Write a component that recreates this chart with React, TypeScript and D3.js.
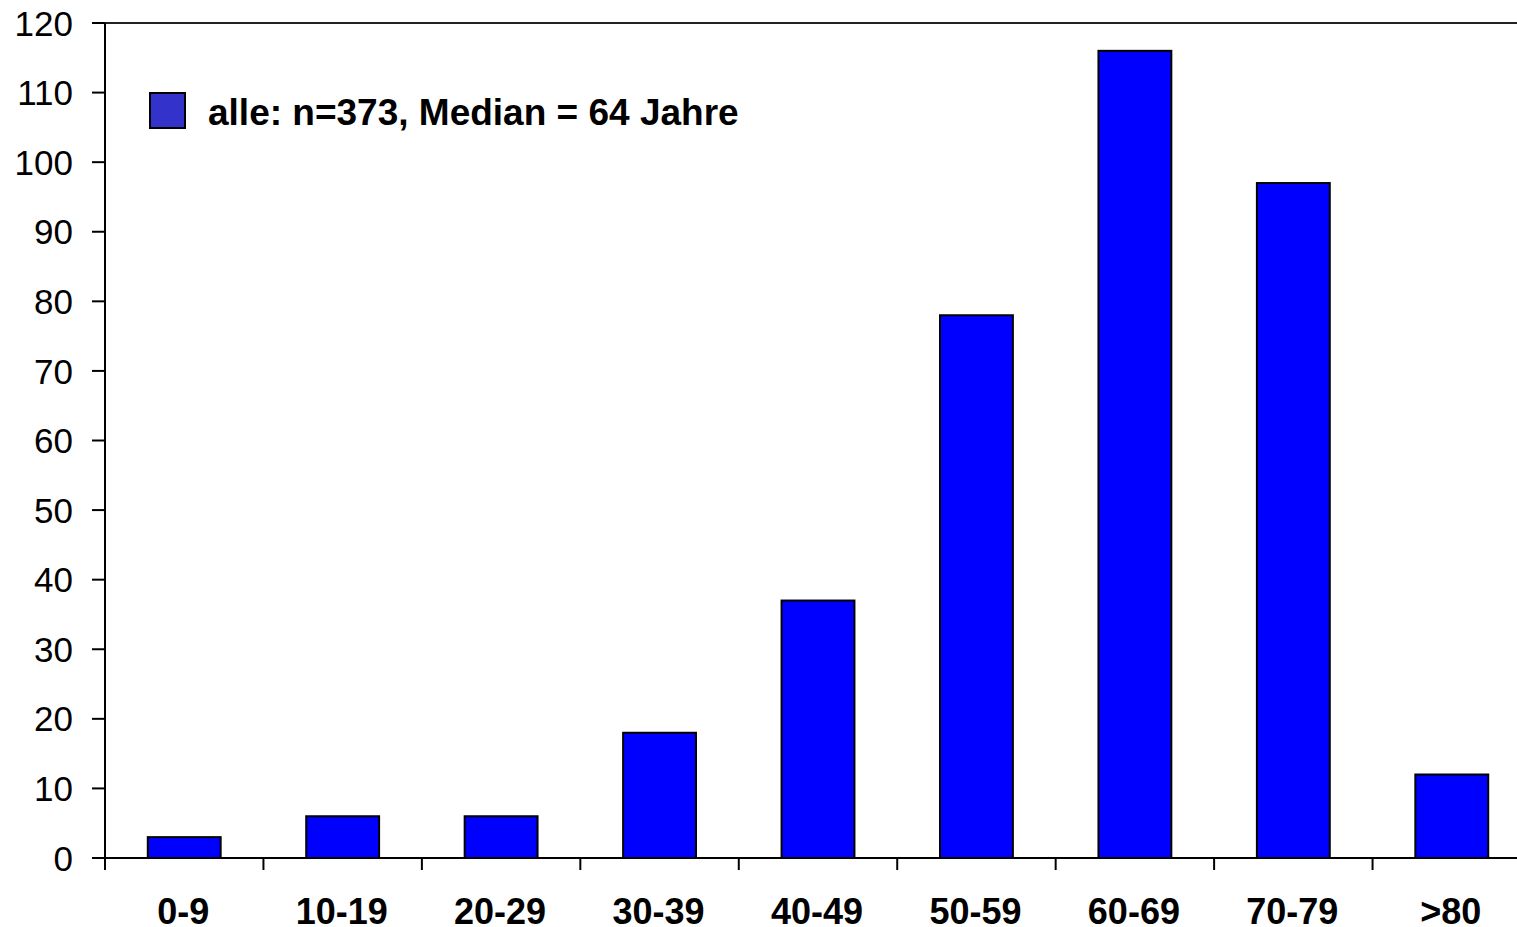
import React, { useEffect, useRef } from "react";
import * as d3 from "d3";

const categories = ["0-9", "10-19", "20-29", "30-39", "40-49", "50-59", "60-69", "70-79", ">80"];
const counts = [3, 6, 6, 18, 37, 78, 116, 97, 12];
const yTicks = [0, 10, 20, 30, 40, 50, 60, 70, 80, 90, 100, 110, 120];
const legendLabel = "alle: n=373, Median = 64 Jahre";

const W = 1517;
const H = 927;
const left = 105;
const right = 1531;
const top = 23;
const bottom = 858;
const FONT = "Liberation Sans, Arial, sans-serif";

export default function App() {
  const ref = useRef<SVGSVGElement | null>(null);

  useEffect(() => {
    const svg = d3.select(ref.current);
    svg.selectAll("*").remove();

    const x = d3.scaleBand<string>().domain(categories).range([left, right]).paddingInner(0.54).paddingOuter(0.27);
    const xb = d3.scaleBand<string>().domain(categories).range([left, right]).padding(0);
    const y = d3.scaleLinear().domain([0, 120]).range([bottom, top]);

    svg.append("rect").attr("x", 0).attr("y", 0).attr("width", W).attr("height", H).attr("fill", "#fff");

    // top border
    svg.append("line").attr("x1", left).attr("x2", right).attr("y1", top).attr("y2", top)
      .attr("stroke", "#222").attr("stroke-width", 2);

    // bars
    svg.selectAll("rect.bar").data(categories).enter().append("rect")
      .attr("class", "bar")
      .attr("x", (d) => x(d)!)
      .attr("width", x.bandwidth())
      .attr("y", (_d, i) => y(counts[i]))
      .attr("height", (_d, i) => bottom - y(counts[i]))
      .attr("fill", "#0000ff")
      .attr("stroke", "#000")
      .attr("stroke-width", 2);

    // y axis
    svg.append("line").attr("x1", left).attr("x2", left).attr("y1", top).attr("y2", bottom + 12)
      .attr("stroke", "#000").attr("stroke-width", 2);
    const yg = svg.append("g");
    yTicks.forEach((t) => {
      yg.append("line").attr("x1", left - 13).attr("x2", left).attr("y1", y(t)).attr("y2", y(t))
        .attr("stroke", "#000").attr("stroke-width", 2);
      yg.append("text").attr("x", 73).attr("y", y(t)).attr("dy", "0.36em")
        .attr("text-anchor", "end")
        .attr("font-family", FONT)
        .attr("font-size", 35)
        .attr("fill", "#000")
        .text(String(t));
    });

    // x axis
    svg.append("line").attr("x1", left - 13).attr("x2", right).attr("y1", bottom).attr("y2", bottom)
      .attr("stroke", "#000").attr("stroke-width", 2);
    const xg = svg.append("g");
    categories.forEach((c) => {
      const x0 = xb(c)!;
      xg.append("line").attr("x1", x0).attr("x2", x0).attr("y1", bottom).attr("y2", bottom + 12)
        .attr("stroke", "#000").attr("stroke-width", 2);
      xg.append("text").attr("x", x0 + xb.bandwidth() / 2 - 1).attr("y", 924)
        .attr("text-anchor", "middle")
        .attr("font-family", FONT)
        .attr("font-weight", "bold")
        .attr("font-size", 36)
        .attr("fill", "#000")
        .text(c);
    });
    xg.append("line").attr("x1", right).attr("x2", right).attr("y1", bottom).attr("y2", bottom + 12)
      .attr("stroke", "#000").attr("stroke-width", 2);

    // legend
    svg.append("rect").attr("x", 150).attr("y", 93).attr("width", 35).attr("height", 35)
      .attr("fill", "#3333cc").attr("stroke", "#000").attr("stroke-width", 2);
    svg.append("text").attr("x", 208).attr("y", 125)
      .attr("font-family", FONT)
      .attr("font-weight", "bold")
      .attr("font-size", 37)
      .attr("fill", "#000")
      .text(legendLabel);
  }, []);

  return (
    <svg
      ref={ref}
      width={W}
      height={H}
      style={{ position: "absolute", left: 0, top: 0, overflow: "hidden", display: "block" }}
    />
  );
}
